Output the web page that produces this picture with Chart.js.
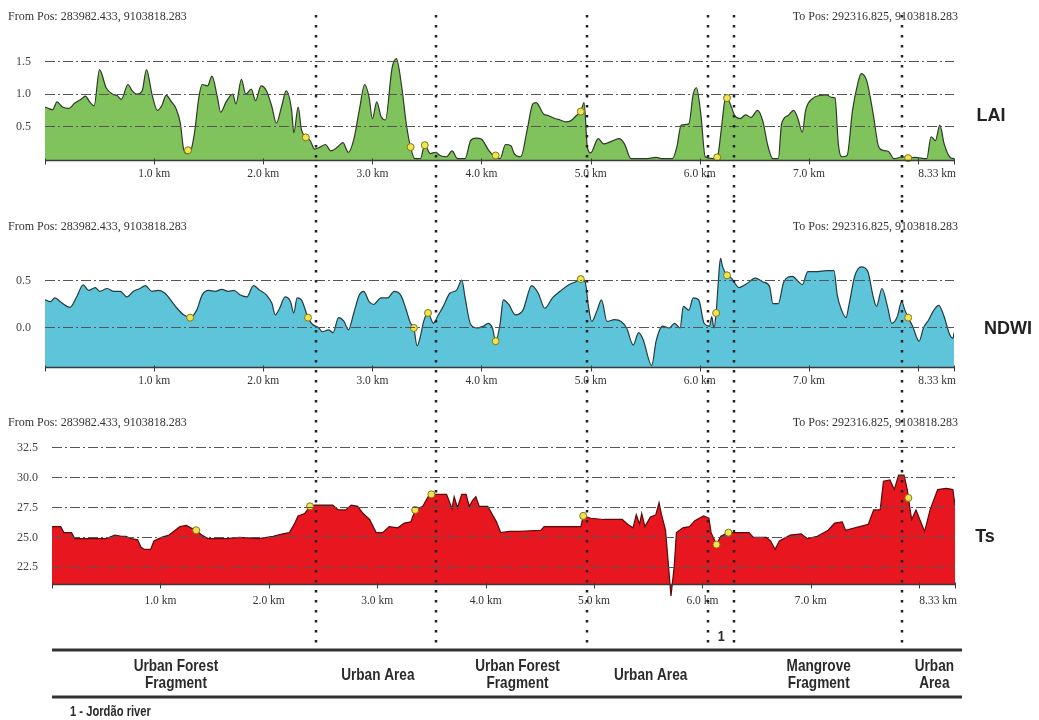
<!DOCTYPE html>
<html>
<head>
<meta charset="utf-8">
<title>LAI, NDWI and Ts profile</title>
<script src="https://cdn.jsdelivr.net/npm/chart.js@4.4.1/dist/chart.umd.min.js"></script>
<style>
html, body { margin: 0; padding: 0; background: #fff; }
#wrap { position: relative; width: 1039px; height: 720px; overflow: hidden; }
.panel { position: absolute; left: 0; width: 1039px; }
</style>
</head>
<body>
<div id="wrap">
  <div class="panel" style="top:0;height:200px"><canvas id="laiChart"></canvas></div>
  <div class="panel" style="top:200px;height:210px"><canvas id="ndwiChart"></canvas></div>
  <div class="panel" style="top:410px;height:310px"><canvas id="tsChart"></canvas></div>
</div>
<script>
// profile distance (km) and values
const laiKm = [0.00,0.03,0.07,0.11,0.16,0.22,0.27,0.33,0.37,0.41,0.45,0.50,0.56,0.62,0.66,0.70,0.76,0.80,0.84,0.89,0.93,0.98,1.03,1.07,1.11,1.16,1.20,1.24,1.27,1.30,1.33,1.37,1.41,1.44,1.49,1.53,1.58,1.61,1.66,1.72,1.75,1.80,1.84,1.89,1.93,1.98,2.03,2.08,2.12,2.17,2.21,2.26,2.28,2.32,2.35,2.39,2.43,2.47,2.52,2.57,2.62,2.68,2.73,2.78,2.83,2.88,2.93,2.97,3.00,3.04,3.08,3.12,3.18,3.22,3.27,3.31,3.35,3.39,3.44,3.48,3.53,3.58,3.62,3.68,3.73,3.78,3.85,3.90,3.95,4.00,4.07,4.12,4.17,4.22,4.27,4.30,4.36,4.42,4.47,4.50,4.57,4.61,4.68,4.72,4.77,4.82,4.87,4.91,4.94,4.97,5.00,5.07,5.12,5.18,5.26,5.31,5.37,5.50,5.60,5.66,5.75,5.79,5.83,5.90,5.94,5.97,6.01,6.05,6.12,6.16,6.20,6.23,6.25,6.29,6.32,6.37,6.42,6.47,6.53,6.58,6.62,6.67,6.72,6.75,6.81,6.86,6.90,6.94,6.97,7.04,7.10,7.16,7.21,7.24,7.27,7.30,7.35,7.40,7.45,7.48,7.53,7.59,7.64,7.68,7.73,7.78,7.86,7.91,7.97,8.08,8.12,8.16,8.20,8.24,8.29,8.33];
const laiVal = [0.80,0.78,0.76,0.88,0.80,0.78,0.86,0.92,0.97,0.88,0.82,1.38,1.10,1.00,0.98,0.92,1.15,1.05,1.00,1.05,1.38,1.00,0.75,0.82,0.98,0.88,0.78,0.55,0.15,0.08,0.10,0.40,0.95,1.15,1.13,1.28,0.95,0.72,0.88,1.00,0.85,1.23,1.00,1.08,0.90,1.13,1.05,0.80,0.55,0.82,1.05,0.75,0.40,0.80,0.45,0.33,0.28,0.15,0.18,0.22,0.12,0.18,0.25,0.10,0.30,0.75,1.15,0.95,0.62,0.88,0.65,0.60,1.40,1.55,1.10,0.55,0.18,0.00,0.00,0.21,0.08,0.10,0.05,0.03,0.12,0.00,0.00,0.28,0.32,0.30,0.12,0.03,0.00,0.22,0.20,0.08,0.03,0.46,0.85,0.87,0.69,0.67,0.62,0.60,0.57,0.59,0.67,0.73,0.87,0.18,0.09,0.31,0.23,0.26,0.31,0.23,0.00,0.00,0.02,0.00,0.00,0.18,0.52,0.54,1.00,1.10,0.69,0.03,0.00,0.02,0.49,0.90,0.94,0.80,0.67,0.62,0.68,0.64,0.75,0.57,0.23,0.00,0.00,0.54,0.67,0.75,0.62,0.41,0.75,0.94,0.98,0.99,0.95,0.94,0.23,0.03,0.05,0.75,1.18,1.32,1.21,0.69,0.18,0.13,0.11,0.00,0.03,0.01,0.02,0.00,0.34,0.28,0.52,0.23,0.03,0.00];
const laiMarkKm = [1.31,2.39,3.35,3.48,4.13,4.91,6.16,6.25,7.91];
const laiMarkVal = [0.13,0.33,0.18,0.21,0.05,0.73,0.02,0.94,0.01];

const ndwiKm = [0.00,0.05,0.09,0.15,0.23,0.29,0.35,0.40,0.46,0.50,0.57,0.63,0.69,0.75,0.81,0.87,0.92,0.98,1.04,1.10,1.15,1.21,1.27,1.33,1.39,1.44,1.50,1.56,1.62,1.68,1.73,1.79,1.85,1.91,1.97,2.03,2.08,2.11,2.15,2.20,2.25,2.28,2.31,2.35,2.41,2.45,2.51,2.54,2.60,2.64,2.69,2.74,2.78,2.83,2.88,2.92,2.97,3.01,3.08,3.14,3.20,3.26,3.30,3.35,3.38,3.41,3.44,3.47,3.51,3.56,3.60,3.65,3.71,3.77,3.82,3.85,3.90,3.96,4.02,4.06,4.10,4.13,4.17,4.20,4.25,4.31,4.38,4.46,4.52,4.58,4.65,4.72,4.80,4.86,4.91,4.95,4.98,5.01,5.06,5.10,5.15,5.22,5.28,5.33,5.39,5.44,5.48,5.56,5.60,5.66,5.72,5.77,5.82,5.85,5.90,5.94,5.99,6.04,6.09,6.11,6.13,6.15,6.17,6.19,6.21,6.25,6.29,6.36,6.43,6.51,6.58,6.64,6.67,6.72,6.77,6.85,6.89,6.94,6.99,7.08,7.16,7.23,7.26,7.30,7.34,7.37,7.42,7.48,7.54,7.59,7.62,7.67,7.72,7.76,7.81,7.85,7.88,7.91,7.95,8.01,8.05,8.10,8.14,8.19,8.24,8.29,8.32,8.33];
const ndwiVal = [0.30,0.28,0.32,0.27,0.22,0.33,0.46,0.40,0.43,0.39,0.42,0.39,0.39,0.33,0.39,0.42,0.45,0.39,0.40,0.37,0.30,0.21,0.14,0.11,0.19,0.35,0.40,0.39,0.41,0.39,0.40,0.35,0.33,0.45,0.40,0.35,0.26,0.14,0.21,0.33,0.28,0.16,0.32,0.30,0.11,0.04,0.00,-0.04,-0.02,-0.05,0.11,0.07,-0.02,0.16,0.35,0.39,0.28,0.25,0.32,0.32,0.39,0.35,0.23,0.05,0.00,-0.19,-0.09,0.07,0.16,0.05,0.13,0.23,0.37,0.40,0.51,0.32,0.04,0.00,0.02,0.05,0.00,-0.14,0.04,0.30,0.25,0.14,0.19,0.45,0.37,0.21,0.32,0.39,0.46,0.49,0.52,0.49,0.23,0.07,0.19,0.30,0.07,0.09,0.07,0.00,-0.18,-0.05,-0.12,-0.40,-0.14,0.02,0.00,0.05,0.00,0.23,0.19,0.32,0.30,0.05,0.02,0.12,0.00,0.16,0.49,0.74,0.65,0.56,0.53,0.43,0.47,0.53,0.49,0.44,0.26,0.26,0.49,0.55,0.51,0.46,0.60,0.60,0.61,0.61,0.35,0.19,0.11,0.26,0.55,0.65,0.60,0.33,0.23,0.42,0.23,0.05,0.12,0.28,0.19,0.11,0.02,-0.14,0.00,0.09,0.18,0.24,0.12,-0.07,-0.11,-0.05];
const ndwiMarkKm = [1.33,2.41,3.38,3.51,4.13,4.91,6.15,6.25,7.91];
const ndwiMarkVal = [0.11,0.11,0.00,0.16,-0.14,0.52,0.16,0.56,0.11];

const tsKm = [0.00,0.08,0.11,0.18,0.21,0.31,0.41,0.50,0.58,0.64,0.68,0.73,0.79,0.82,0.85,0.91,0.94,1.01,1.08,1.18,1.24,1.28,1.33,1.38,1.44,1.61,1.73,1.91,2.04,2.13,2.19,2.24,2.27,2.33,2.38,2.42,2.59,2.64,2.71,2.76,2.82,2.87,2.93,2.99,3.05,3.11,3.19,3.25,3.31,3.35,3.42,3.47,3.50,3.54,3.64,3.69,3.71,3.74,3.78,3.82,3.85,3.88,3.91,3.94,4.02,4.10,4.14,4.22,4.31,4.51,4.54,4.88,4.90,4.97,5.09,5.26,5.31,5.36,5.39,5.42,5.44,5.47,5.52,5.57,5.60,5.62,5.66,5.69,5.71,5.74,5.76,5.82,5.88,5.93,6.01,6.06,6.08,6.11,6.13,6.17,6.24,6.33,6.43,6.47,6.59,6.63,6.67,6.71,6.81,6.91,6.97,7.06,7.16,7.22,7.29,7.32,7.45,7.53,7.58,7.64,7.67,7.73,7.77,7.81,7.86,7.89,7.90,7.93,7.97,8.05,8.10,8.17,8.25,8.31,8.33];
const tsVal = [25.9,25.9,25.4,25.4,24.9,24.9,24.9,24.9,25.2,25.1,25.1,24.9,24.8,24.2,24.0,24.0,24.7,25.0,25.2,25.9,26.0,25.8,25.6,25.2,24.9,24.9,25.0,24.9,25.1,25.3,25.4,26.2,26.8,27.0,27.6,27.7,27.7,27.3,27.3,27.7,27.6,27.0,26.5,25.4,25.4,25.9,25.8,26.2,26.3,27.3,27.6,28.4,28.6,28.6,28.6,27.4,28.4,27.5,28.6,28.6,27.6,28.1,28.4,27.6,27.6,26.3,25.4,25.5,25.5,25.6,25.9,25.9,26.8,26.6,26.5,26.5,26.1,25.8,26.9,26.1,27.0,25.9,26.7,26.9,27.9,27.0,25.6,22.3,20.1,22.6,25.4,25.8,25.9,26.4,26.8,26.6,25.4,24.8,24.4,25.1,25.4,25.4,25.4,25.0,25.0,24.7,24.0,24.7,25.2,25.3,24.9,25.1,25.6,26.2,26.3,25.6,25.9,26.1,27.3,27.3,29.7,29.8,29.0,30.2,30.2,29.0,28.3,26.5,27.3,25.5,27.3,29.0,29.1,29.0,27.7];
const tsMarkKm = [1.33,2.38,3.35,3.50,4.90,6.13,6.24,7.90];
const tsMarkVal = [25.6,27.6,27.3,28.6,26.8,24.4,25.4,28.3];

const laiTicks = [0.5, 1.0, 1.5];
const ndwiTicks = [0.0, 0.5];
const tsTicks = [22.5, 25.0, 27.5, 30.0, 32.5];

const kmTicks = [1, 2, 3, 4, 5, 6, 7, 8];
const kmLabels = ['1.0 km', '2.0 km', '3.0 km', '4.0 km', '5.0 km', '6.0 km', '7.0 km', ''];
const endKm = 8.33;
const endLabel = '8.33 km';
const fromPos = 'From Pos: 283982.433, 9103818.283';
const toPos = 'To Pos: 292316.825, 9103818.283';

const dividerKm = [2.484, 3.584, 4.968, 6.077, 6.315, 7.855];
const zoneNames = [['Urban Forest', 'Fragment'], ['Urban Area'], ['Urban Forest', 'Fragment'], ['Urban Area'], ['Mangrove', 'Fragment'], ['Urban', 'Area']];
const zoneCenterKm = [1.20, 3.05, 4.33, 5.55, 7.09, 8.15];
const riverMark = '1';
const footnote = '1 - Jordão river';

const serif = "'Liberation Serif','DejaVu Serif',serif";
const sans = "'Liberation Sans',Arial,sans-serif";

const charts = {};

function toPoints(xs, ys) {
    return xs.map((v, i) => ({ x: v, y: ys[i] }));
}

// condensed text: no narrow face is installed, so squeeze horizontally
function fillCondensed(ctx, text, x, y, sx) {
    ctx.save();
    ctx.translate(x, y);
    ctx.scale(sx, 1);
    ctx.fillText(text, 0, 0);
    ctx.restore();
}

function drawTable(ctx, xs) {
    ctx.strokeStyle = '#333';
    ctx.lineWidth = 3;
    [240, 287].forEach(yy => {
        ctx.beginPath();
        ctx.moveTo(52, yy);
        ctx.lineTo(962, yy);
        ctx.stroke();
    });
    ctx.fillStyle = '#2a2a2a';
    ctx.textAlign = 'center';
    ctx.textBaseline = 'middle';
    ctx.font = 'bold 17px ' + sans;
    zoneNames.forEach((lines, i) => {
        const cx = xs.getPixelForValue(zoneCenterKm[i]);
        const y0 = 265 - (lines.length - 1) * 8.5;
        lines.forEach((t, j) => fillCondensed(ctx, t, cx, y0 + j * 17, 0.8));
    });
    ctx.font = 'bold 14px ' + sans;
    fillCondensed(ctx, riverMark, xs.getPixelForValue((dividerKm[3] + dividerKm[4]) / 2), 227, 0.9);
    ctx.textAlign = 'left';
    ctx.font = 'bold 14px ' + sans;
    fillCondensed(ctx, footnote, 70, 302, 0.8);
}

const profilePlugin = {
    id: 'profile',
    afterDraw(chart, args, o) {
        const ctx = chart.ctx;
        const x = chart.scales.x, y = chart.scales.y;
        const axisY = Math.round(y.getPixelForValue(o.base)) + 0.5;
        ctx.save();
        // distance axis
        ctx.strokeStyle = '#3a3a3a';
        ctx.lineWidth = 1.5;
        ctx.beginPath();
        ctx.moveTo(x.left, axisY);
        ctx.lineTo(x.right, axisY);
        ctx.stroke();
        ctx.lineWidth = 1;
        [0, ...kmTicks, endKm].forEach(v => {
            const px = Math.round(x.getPixelForValue(v)) + 0.5;
            ctx.beginPath();
            ctx.moveTo(px, axisY - 2);
            ctx.lineTo(px, axisY + 4);
            ctx.stroke();
        });
        ctx.fillStyle = '#333';
        ctx.font = '11.5px ' + serif;
        ctx.textBaseline = 'middle';
        ctx.textAlign = 'center';
        kmLabels.forEach((t, i) => ctx.fillText(t, x.getPixelForValue(kmTicks[i]), axisY + o.labelGap));
        ctx.textAlign = 'right';
        ctx.fillText(endLabel, x.getPixelForValue(endKm) + 2, axisY + o.labelGap);
        // positions header
        ctx.font = '12px ' + serif;
        ctx.textAlign = 'left';
        ctx.fillText(fromPos, 8, o.headerY);
        ctx.textAlign = 'right';
        ctx.fillText(toPos, 958, o.headerY);
        // variable name
        ctx.font = 'bold 18px ' + sans;
        ctx.fillStyle = '#222';
        ctx.textAlign = 'center';
        ctx.fillText(o.name, o.nameX, o.nameY);
        // dotted zone dividers, all placed with the top panel's scale
        const xs = (charts.lai && chart !== charts.lai) ? charts.lai.scales.x : x;
        ctx.strokeStyle = '#222';
        ctx.lineWidth = 2.5;
        ctx.setLineDash([2.5, 7.5]);
        dividerKm.forEach(v => {
            const px = Math.round(xs.getPixelForValue(v));
            ctx.beginPath();
            ctx.moveTo(px, o.divTop);
            ctx.lineTo(px, o.divBottom);
            ctx.stroke();
        });
        ctx.setLineDash([]);
        if (o.table) drawTable(ctx, xs);
        ctx.restore();
    }
};

function makeChart(id, cfg) {
    const ctx = document.getElementById(id).getContext('2d');
    return new Chart(ctx, {
        type: 'line',
        data: {
            datasets: [{
                data: toPoints(cfg.markKm, cfg.markVal),
                showLine: false,
                pointRadius: 3.5,
                pointBackgroundColor: '#eee552',
                pointBorderColor: '#857512',
                pointBorderWidth: 1,
                clip: false,
                order: 0
            }, {
                data: toPoints(cfg.km, cfg.val),
                borderColor: cfg.line,
                borderWidth: 1.2,
                backgroundColor: cfg.fillColor,
                fill: cfg.fill,
                pointRadius: 0,
                tension: cfg.tension,
                cubicInterpolationMode: cfg.tension ? 'monotone' : 'default',
                order: 1
            }]
        },
        options: {
            responsive: true,
            maintainAspectRatio: false,
            animation: false,
            layout: { padding: { left: 0, right: cfg.padRight, top: cfg.padTop, bottom: cfg.padBottom } },
            scales: {
                x: { type: 'linear', min: 0, max: endKm, bounds: 'data', display: false },
                y: {
                    type: 'linear',
                    min: cfg.min,
                    max: cfg.max,
                    bounds: 'data',
                    afterFit: s => { s.width = cfg.axisWidth; },
                    afterBuildTicks: s => { s.ticks = cfg.ticks.map(v => ({ value: v })); },
                    grid: { color: '#555', lineWidth: 1, drawTicks: false, z: 1 },
                    border: { display: false, dash: [10, 3, 2, 3] },
                    ticks: {
                        padding: 14,
                        color: '#444',
                        font: { family: serif, size: 12 },
                        callback: v => v.toFixed(1)
                    }
                }
            },
            plugins: {
                legend: { display: false },
                tooltip: { enabled: false },
                profile: cfg.profile
            }
        },
        plugins: [profilePlugin]
    });
}

charts.lai = makeChart('laiChart', {
    km: laiKm, val: laiVal, markKm: laiMarkKm, markVal: laiMarkVal,
    line: '#2e3a28', fillColor: '#80c25c', fill: 'start', tension: 0.3,
    min: -0.02, max: 2.131, ticks: laiTicks,
    axisWidth: 45, padRight: 85, padTop: 20, padBottom: 40,
    profile: { base: -0.02, labelGap: 13, headerY: 17, name: 'LAI', nameX: 991, nameY: 116, divTop: 15, divBottom: 200 }
});

charts.ndwi = makeChart('ndwiChart', {
    km: ndwiKm, val: ndwiVal, markKm: ndwiMarkKm, markVal: ndwiMarkVal,
    line: '#233b42', fillColor: '#5dc4d9', fill: 'start', tension: 0.3,
    min: -0.415, max: 0.936, ticks: ndwiTicks,
    axisWidth: 45, padRight: 85, padTop: 40, padBottom: 43,
    profile: { base: -0.415, labelGap: 13, headerY: 27, name: 'NDWI', nameX: 1008, nameY: 129, divTop: 0, divBottom: 210 }
});

charts.ts = makeChart('tsChart', {
    km: tsKm, val: tsVal, markKm: tsMarkKm, markVal: tsMarkVal,
    line: '#5a0a0a', fillColor: '#e8161e', fill: { value: 21.1 }, tension: 0,
    min: 19.77, max: 33.56, ticks: tsTicks,
    axisWidth: 52, padRight: 84, padTop: 25, padBottom: 120,
    profile: { base: 21.1, labelGap: 16, headerY: 13, name: 'Ts', nameX: 985, nameY: 127, divTop: 0, divBottom: 238, table: true }
});
</script>
</body>
</html>
